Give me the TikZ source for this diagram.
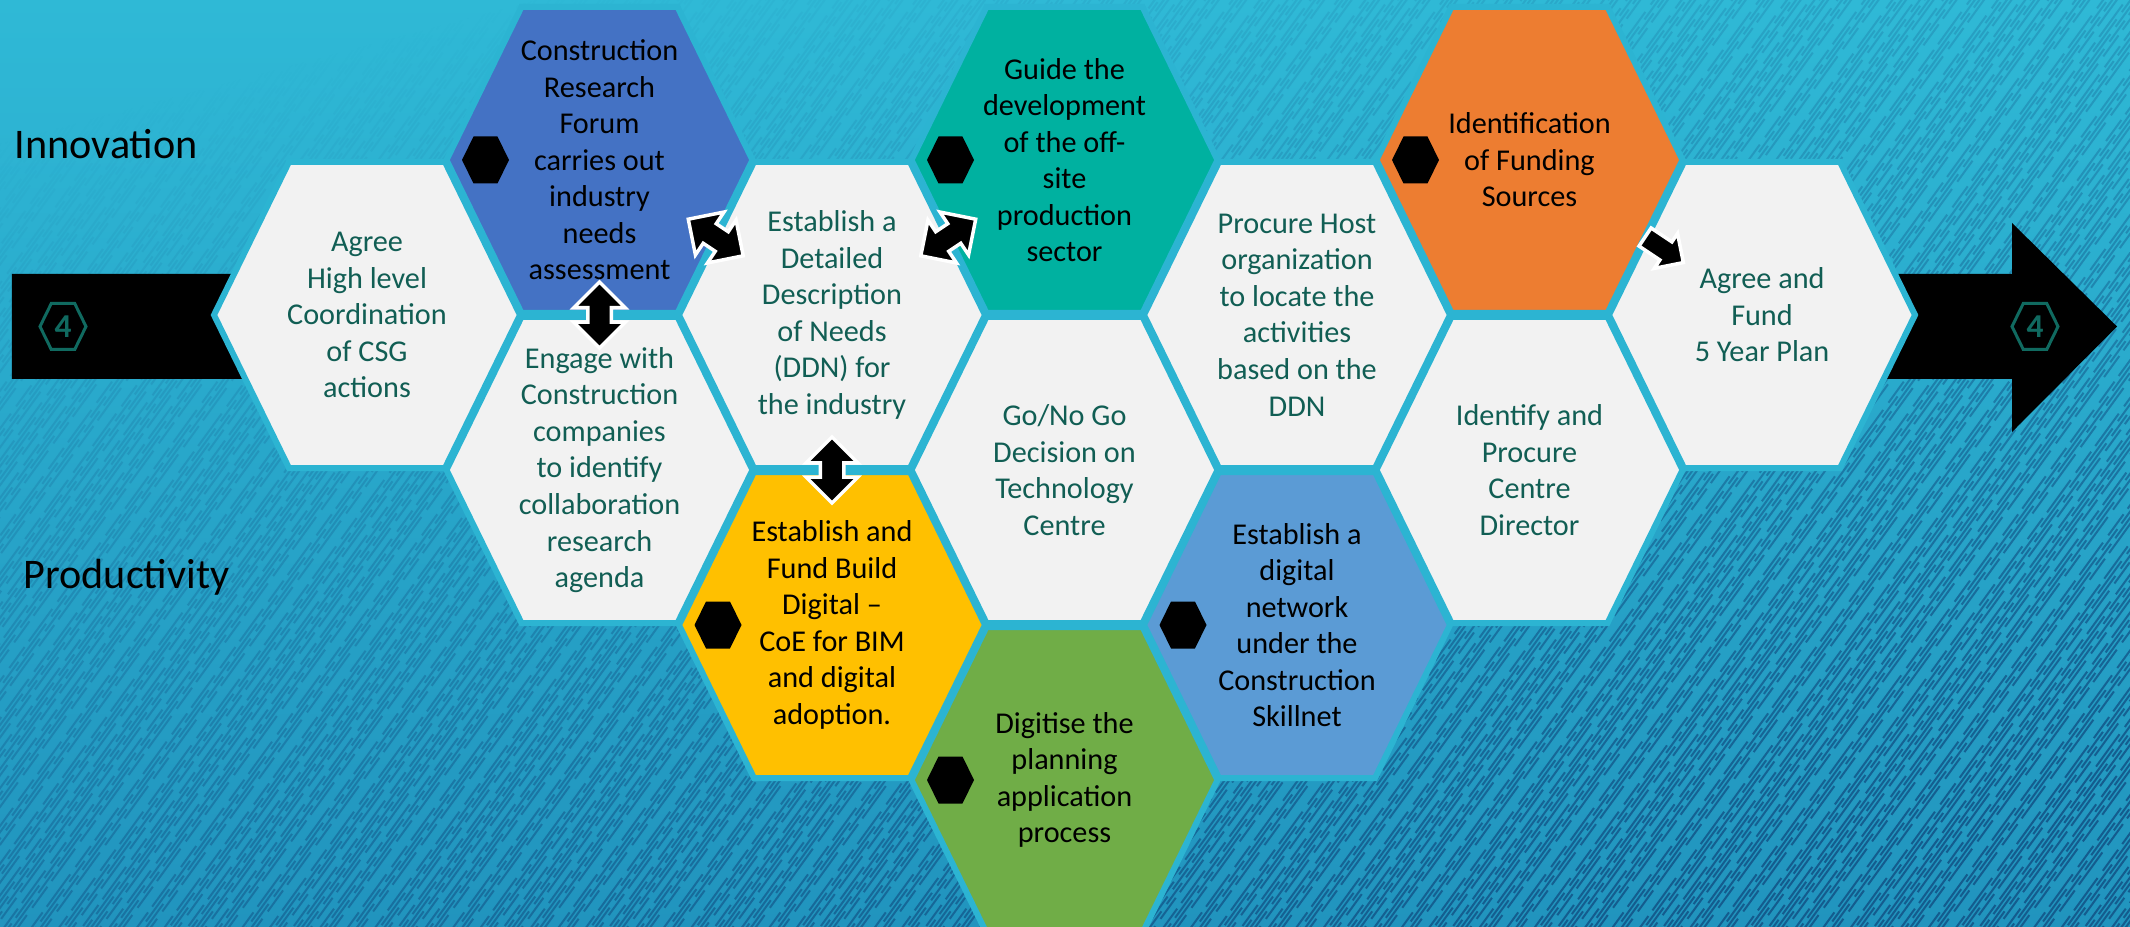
\documentclass[tikz,border=0pt]{standalone}
\usepackage{fontspec}
\setmainfont{Carlito}
\usetikzlibrary{shapes.arrows,fadings}

\definecolor{seatop}{RGB}{47,185,214}
\definecolor{seabottom}{RGB}{33,148,190}
\definecolor{sealine}{RGB}{20,92,142}
\definecolor{hexedge}{RGB}{44,180,210}
\definecolor{hexgrey}{HTML}{F2F2F2}
\definecolor{cellink}{RGB}{17,94,84}
\definecolor{iconteal}{RGB}{16,106,96}
\definecolor{forumblue}{HTML}{4472C4}
\definecolor{offsiteteal}{RGB}{0,177,160}
\definecolor{fundorange}{HTML}{ED7D31}
\definecolor{bimyellow}{HTML}{FFC000}
\definecolor{plangreen}{HTML}{70AD47}
\definecolor{skillblue}{HTML}{5B9BD5}

% hexagon round the current point, pointed left and right
\newcommand{\hexoutline}[1]{+(-#1,0) -- +(-0.51*#1,#1) -- +(0.51*#1,#1) -- +(#1,0) -- +(0.51*#1,-#1) -- +(-0.51*#1,-#1) -- cycle}

% texture gets stronger towards the lower right
\begin{tikzfadingfrompicture}[name=hatchfade]
  \shade[top color=transparent!100, bottom color=transparent!0, middle color=transparent!62,
         shading angle=15] (0,0) rectangle (21.3,9.26);
\end{tikzfadingfrompicture}

\tikzset{
  plaincell/.style={minimum width=3.2cm, minimum height=3.2cm, inner sep=0pt, align=center,
    text=cellink, font=\fontsize{8.6}{10.4}\selectfont,
    path picture={\filldraw[draw=hexedge, line width=0.06cm, fill=hexgrey]
      (path picture bounding box.center) \hexoutline{1.53};}},
  keycell/.style={minimum width=3.2cm, minimum height=3.2cm, inner sep=0pt, align=center,
    text=black, font=\fontsize{8.6}{10.4}\selectfont,
    path picture={\filldraw[draw=hexedge, line width=0.06cm, fill=#1]
      (path picture bounding box.center) \hexoutline{1.53};
      \fill[black] ([xshift=-1.14cm]path picture bounding box.center) \hexoutline{0.235};}},
  fouricon/.style={minimum size=0.6cm, inner sep=0pt, text=iconteal,
    font=\fontsize{9.5}{11}\selectfont\bfseries,
    path picture={\draw[iconteal, line width=0.03cm]
      (path picture bounding box.center) \hexoutline{0.23};}},
  lanelabel/.style={anchor=base west, inner sep=0pt, font=\fontsize{12}{14}\selectfont},
  bothways/.style={double arrow, sloped, fill=black, draw=white, line width=0.035cm,
    minimum height=0.66cm, minimum width=0.5cm, double arrow head extend=0.14cm,
    inner xsep=0pt, inner ysep=0.1cm},
  oneway/.style={single arrow, sloped, fill=black, draw=white, line width=0.035cm,
    minimum height=0.46cm, minimum width=0.42cm, single arrow head extend=0.1cm,
    inner xsep=0pt, inner ysep=0.09cm}
}

\begin{document}
\begin{tikzpicture}
  \useasboundingbox (0,0) rectangle (21.3,9.26);
  % backdrop
  \shade[top color=seatop, bottom color=seabottom] (0,0) rectangle (21.3,9.26);
  \begin{scope}
    \clip (0,0) rectangle (21.3,9.26);
    \draw[sealine, line width=0.02cm, dash pattern=on 0.26cm off 0.07cm on 0.4cm off 0.09cm,
          path fading=hatchfade, fit fading=false, fading transform={shift={(10.65,4.63)}}]
      foreach \i in {0,...,470} {({-7.6+0.062*\i},{-0.037*mod(\i*13,17)}) -- ++(54:12.6)};
  \end{scope}

  % the long black arrow
  \fill[black] (0.12,6.52) -- (20.12,6.52) -- (20.12,7.03) -- (21.17,5.995)
               -- (20.12,4.94) -- (20.12,5.47) -- (0.12,5.47) -- cycle;
  \node[fouricon] (startfour) at (0.63,5.995) {4};
  \node[fouricon] (endfour) at (20.35,5.995) {4};

  \node[lanelabel] (innov) at (0.14,7.67) {Innovation};
  \node[lanelabel] (prod) at (0.23,3.38) {Productivity};

  % honeycomb
  \node[plaincell] (agree) at (3.67,6.11) {Agree\\High level\\Coordination\\of CSG\\actions};
  \node[keycell=forumblue] (crf) at (5.995,7.66) {Construction\\Research\\Forum\\carries out\\industry\\needs\\assessment};
  \node[plaincell] (engage) at (5.995,4.56) {Engage with\\Construction\\companies\\to identify\\collaboration\\research\\agenda};
  \node[plaincell] (ddn) at (8.32,6.11) {Establish a\\Detailed\\Description\\of Needs\\(DDN) for\\the industry};
  \node[keycell=bimyellow] (bimd) at (8.32,3.01) {Establish and\\Fund Build\\Digital --\\CoE for BIM\\and digital\\adoption.};
  \node[keycell=offsiteteal] (offsite) at (10.645,7.66) {Guide the\\development\\of the off-\\site\\production\\sector};
  \node[plaincell] (gonogo) at (10.645,4.56) {Go/No Go\\Decision on\\Technology\\Centre};
  \node[keycell=plangreen] (plan) at (10.645,1.46) {Digitise the\\planning\\application\\process};
  \node[plaincell] (host) at (12.97,6.11) {Procure Host\\organization\\to locate the\\activities\\based on the\\DDN};
  \node[keycell=skillblue] (skillnet) at (12.97,3.01) {Establish a\\digital\\network\\under the\\Construction\\Skillnet};
  \node[keycell=fundorange] (funding) at (15.295,7.66) {Identification\\of Funding\\Sources};
  \node[plaincell] (director) at (15.295,4.56) {Identify and\\Procure\\Centre\\Director};
  \node[plaincell] (fiveyr) at (17.62,6.11) {Agree and\\Fund\\5 Year Plan};

  % links
  \path (crf.center) -- node[bothways] (crfengage) {} (engage.center)
        (crf.center) -- node[bothways] (crfddn) {} (ddn.center)
        (ddn.center) -- node[bothways] (ddnoffsite) {} (offsite.center)
        (ddn.center) -- node[bothways] (ddnbimd) {} (bimd.center)
        (funding.center) -- node[oneway, pos=0.56] (fundfive) {} (fiveyr.center);
\end{tikzpicture}
\end{document}
